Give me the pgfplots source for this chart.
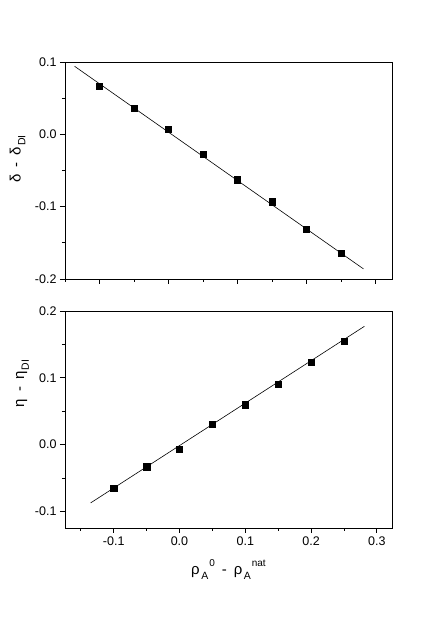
\documentclass[border=0pt]{standalone}
\usepackage{fontspec}
\setmainfont{Liberation Sans}
\usepackage{pgfplots}
\pgfplotsset{compat=1.18}
\newcommand{\lsub}[1]{\raisebox{-0.6ex}{\fontsize{10.5}{11}\selectfont #1}}
\newcommand{\lsup}[1]{\raisebox{1.05ex}{\fontsize{10}{11}\selectfont #1}}
\pgfplotstableread{
x y
-0.10 0.0668
-0.05 0.0364
0.00 0.0073
0.05 -0.0277
0.10 -0.0628
0.15 -0.0932
0.20 -0.131
0.25 -0.164
}\topdata
\pgfplotstableread{
x y
-0.10 -0.065
-0.05 -0.033
0.00 -0.0066
0.05 0.0304
0.10 0.0599
0.15 0.0903
0.20 0.1237
0.25 0.155
}\botdata
\begin{document}
\begin{tikzpicture}
\path[use as bounding box] (0,0) rectangle (436pt,621pt);
\pgfplotsset{
  every axis/.append style={
    scale only axis, width=327pt, height=217pt,
    axis line style={line width=0.9pt},
    tick align=outside, xtick pos=bottom, ytick pos=left,
    major tick length=5pt, minor tick length=3pt,
    every tick/.style={black, line width=0.8pt},
    tick label style={font=\fontsize{12.5}{13}\selectfont},
    /pgf/number format/assume math mode=true,
    /pgf/number format/.cd, fixed, fixed zerofill, precision=1,
    /pgfplots/.cd,
    scaled ticks=false,
    anchor=south west,
  }
}
\begin{axis}[
  at={(65pt,342pt)},
  xmin=-0.15, xmax=0.324, ymin=-0.2, ymax=0.1,
  xtick={-0.1,0,0.1,0.2,0.3}, xticklabels={},
  minor xtick={-0.15,-0.05,0.05,0.15,0.25},
  ytick={-0.2,-0.1,0,0.1},
  minor ytick={-0.15,-0.05,0.05},
  ylabel={\fontsize{15}{16}\selectfont δ\hspace{7pt}-\hspace{7pt}δ\hspace{1pt}\lsub{DI}},
  ylabel style={at={(axis description cs:-0.145,0.553)}, anchor=center},
]
\addplot[black, line width=0.6pt] coordinates {(-0.136,0.094) (0.2826,-0.186)};
\addplot[only marks, mark=square*, mark size=3.2pt, black] table[x=x,y=y] {\topdata};
\end{axis}
\begin{axis}[
  at={(65pt,93pt)},
  xmin=-0.174, xmax=0.323, ymin=-0.125, ymax=0.2,
  xtick={-0.1,0,0.1,0.2,0.3},
  minor xtick={-0.15,-0.05,0.05,0.15,0.25},
  ytick={-0.1,0,0.1,0.2},
  minor ytick={-0.05,0.05,0.15},
  ylabel={\fontsize{15}{16}\selectfont η\hspace{7pt}-\hspace{7pt}η\hspace{1pt}\lsub{DI}},
  ylabel style={at={(axis description cs:-0.13,0.666)}, anchor=center},
  xlabel={\fontsize{15}{16}\selectfont ρ\hspace{1.5pt}\lsub{A}\hspace{1pt}\lsup{0}\hspace{7pt}-\hspace{7pt}ρ\hspace{1.5pt}\lsub{A}\hspace{1pt}\lsup{nat}},
  xlabel style={at={(axis description cs:0.5,-0.19)}, anchor=center},
]
\addplot[black, line width=0.6pt] coordinates {(-0.135,-0.0874) (0.281,0.177)};
\addplot[only marks, mark=square*, mark size=3.2pt, black] table[x=x,y=y] {\botdata};
\end{axis}
\end{tikzpicture}
\end{document}
